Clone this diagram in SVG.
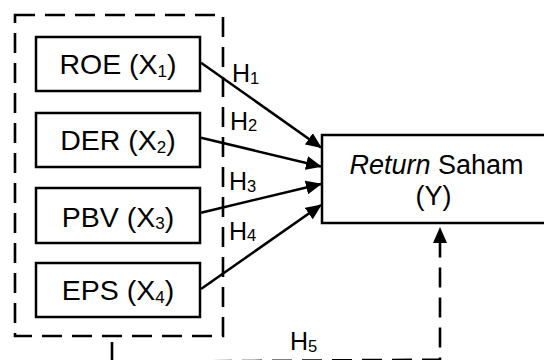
<svg xmlns="http://www.w3.org/2000/svg" width="544" height="360" viewBox="0 0 544 360">
<style>
.box{fill:#fff;stroke:#000;stroke-width:2.5}
.dash{fill:none;stroke:#000;stroke-width:2.6;stroke-dasharray:20 10}
.lbl{font-family:"Liberation Sans",Arial,sans-serif;font-size:28.5px;fill:#000;text-anchor:middle}
.ret{font-size:27px}
.h{font-family:"Liberation Sans",Arial,sans-serif;font-size:25px;fill:#000}
.sub{font-size:17px}
.hsub{font-size:16.5px}
.conn{stroke:#000;stroke-width:2.5;fill:none}
</style>
<defs>
<marker id="ah" markerWidth="16" markerHeight="14" refX="15" refY="7" orient="auto" markerUnits="userSpaceOnUse">
<path d="M0,0 L16,7 L0,14 Z" fill="#000"/>
</marker>
</defs>
<g id="group">
<rect class="dash" x="15" y="15" width="208" height="321"/>
</g>
<g id="roe">
<rect class="box" x="36" y="37" width="164" height="54"/>
<text class="lbl" x="118" y="74.3">ROE (X<tspan class="sub" dy="2.5">1</tspan><tspan dy="-2.5">)</tspan></text>
</g>
<g id="der">
<rect class="box" x="36" y="113" width="164" height="54"/>
<text class="lbl" x="118" y="150.3">DER (X<tspan class="sub" dy="2.5">2</tspan><tspan dy="-2.5">)</tspan></text>
</g>
<g id="pbv">
<rect class="box" x="36" y="188" width="164" height="55"/>
<text class="lbl" x="118" y="226.5">PBV (X<tspan class="sub" dy="2.5">3</tspan><tspan dy="-2.5">)</tspan></text>
</g>
<g id="eps">
<rect class="box" x="36" y="263" width="164" height="54"/>
<text class="lbl" x="118" y="300.3">EPS (X<tspan class="sub" dy="2.5">4</tspan><tspan dy="-2.5">)</tspan></text>
</g>
<g id="return">
<rect class="box" x="322" y="135" width="240" height="88"/>
<text class="lbl ret" x="436.5" y="174.3"><tspan font-style="italic">Return</tspan> Saham</text>
<text class="lbl ret" x="433.5" y="205">(Y)</text>
</g>
<g id="connectors">
<line class="conn" x1="201" y1="62.7" x2="321" y2="147.5" marker-end="url(#ah)"/>
<line class="conn" x1="201" y1="137.7" x2="321" y2="166.5" marker-end="url(#ah)"/>
<line class="conn" x1="201" y1="212.7" x2="321" y2="184" marker-end="url(#ah)"/>
<line class="conn" x1="201" y1="289" x2="321" y2="205" marker-end="url(#ah)"/>
<path class="dash" d="M112,342 V362 L440,359.6 V228" marker-end="url(#ah)"/>
<text class="h" x="232" y="82">H<tspan class="hsub" dy="1.5">1</tspan></text>
<text class="h" x="230" y="129.5">H<tspan class="hsub" dy="1.5">2</tspan></text>
<text class="h" x="229" y="190">H<tspan class="hsub" dy="1.5">3</tspan></text>
<text class="h" x="229" y="239.5">H<tspan class="hsub" dy="1.5">4</tspan></text>
<text class="h" x="290" y="350">H<tspan class="hsub" dy="1.5">5</tspan></text>
</g>
</svg>
